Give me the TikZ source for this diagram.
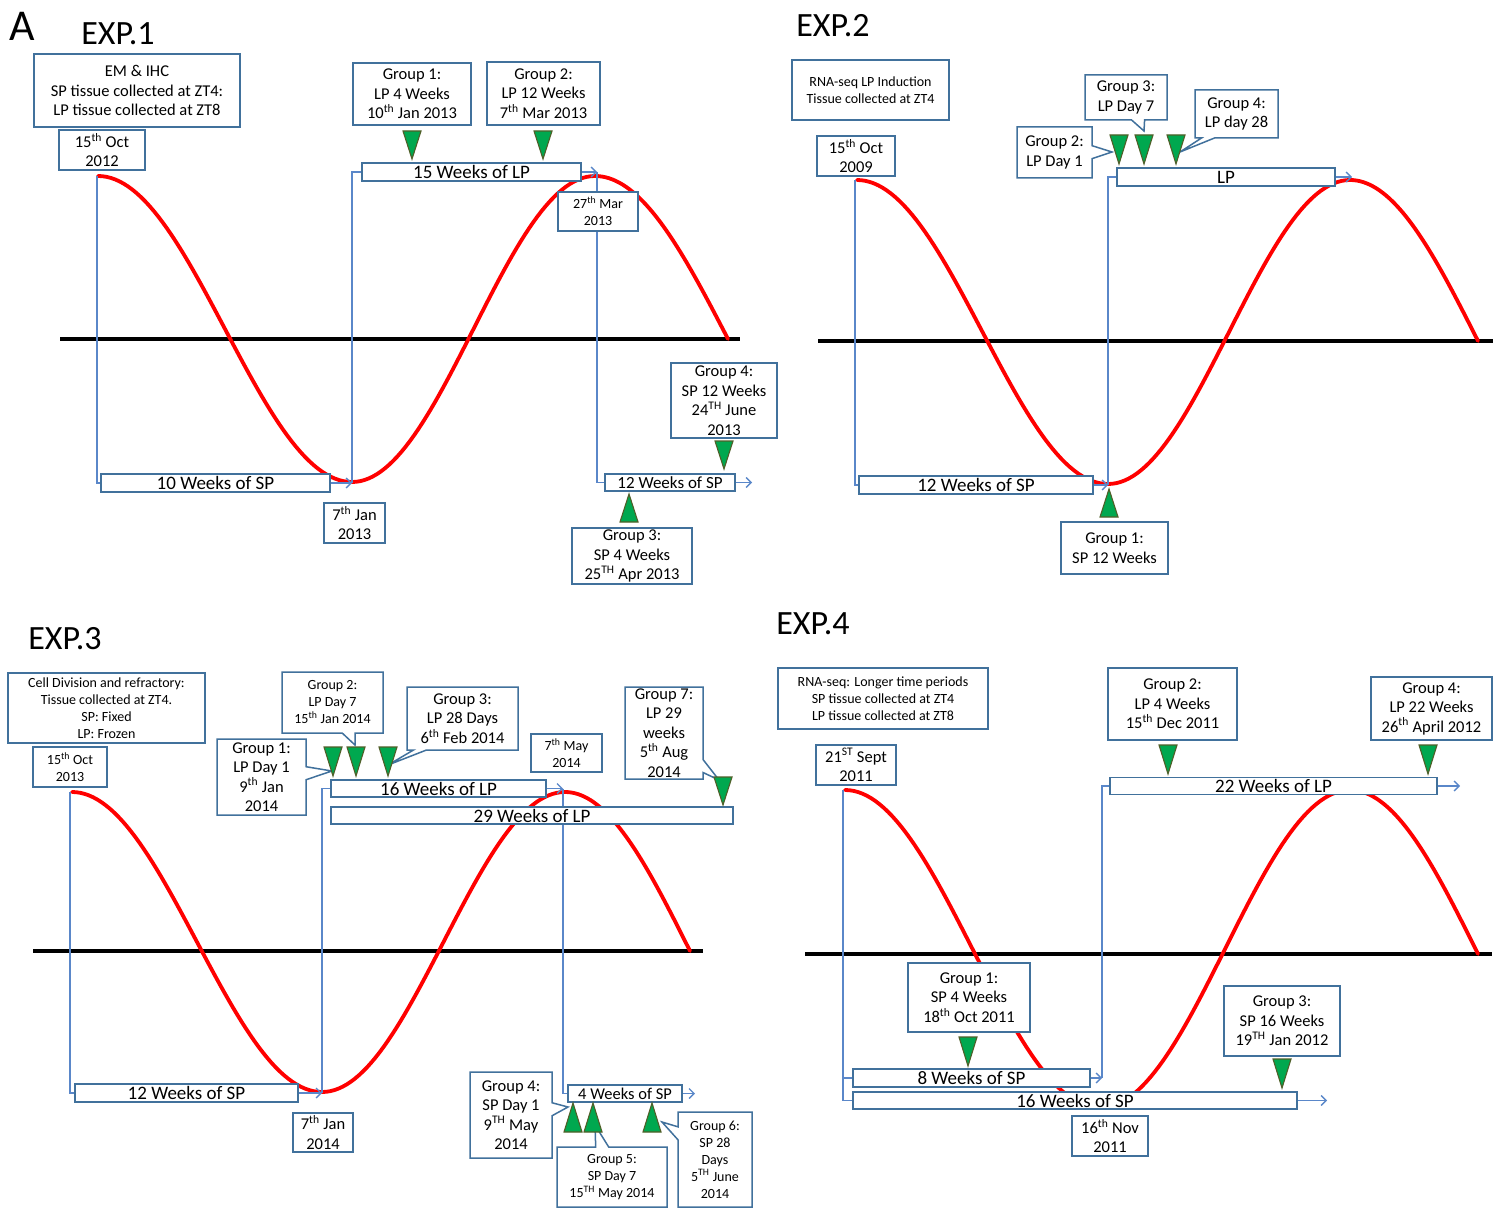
\documentclass[tikz,border=0pt]{standalone}
\usepackage{fontspec}
\setmainfont{Carlito}
\usetikzlibrary{arrows.meta,shapes.callouts,backgrounds}
\definecolor{boxc}{HTML}{41719C}
\definecolor{linec}{HTML}{5A87C9}
\definecolor{redc}{HTML}{FF0000}
\definecolor{trig}{HTML}{00A84F}
\definecolor{trib}{HTML}{4F5F28}
\newcommand\fnN{\fontsize{16.5}{19.5}\selectfont}
\newcommand\fnS{\fontsize{14}{17}\selectfont}
\newcommand\fnB{\fontsize{19}{20}\selectfont}
\newcommand\fnM{\fontsize{17}{20}\selectfont}
\newcommand\fnT{\fontsize{34}{36}\selectfont}
\newcommand\fnA{\fontsize{44}{48}\selectfont}
\newcommand\sps[1]{\textsuperscript{#1}}
\newcommand\mytri[3]{\draw[tri] (#1-9,#2) -- (#1+9,#2) -- (#1,#3) -- cycle;}
\newcommand\mywave[7]{\draw[redw] plot[domain=#1:#3,samples=60] (\x,{#2+(#4-#2)*(1-cos(180*((\x-#1)/(#3-#1))))/2}) -- plot[domain=#3:#5,samples=60] (\x,{#4+(#2-#4)*(1-cos(180*((\x-#3)/(#5-#3))))/2}) -- plot[domain=#5:#6,samples=40] (\x,{#2+(#7-#2)*(1-cos(90*((\x-#5)/(#6-#5))))});}
\tikzset{
  sz/.style 2 args={minimum width=#1pt, minimum height=#2pt},
  bx/.style={draw=boxc, line width=1.5pt, fill=white, align=center, inner sep=0pt, font=\fnN},
  sbx/.style={bx, font=\fnS},
  bar/.style={bx, font=\fnB},
  co/.style={bx, rectangle callout, callout pointer width=13pt},
  sco/.style={co, font=\fnS},
  conn/.style={draw=linec, line width=1.3pt},
  arr/.style={conn, -{Straight Barb[length=5pt,width=10pt,line width=1.3pt]}},
  tri/.style={fill=trig, draw=trib, line width=1.1pt, line join=miter},
  redw/.style={draw=redc, line width=3.8pt, line cap=round, line join=round},
  ax/.style={draw=black, line width=3.5pt},
  ttl/.style={inner sep=0pt, font=\fnT},
}
\begin{document}
\begin{tikzpicture}[x=1pt,y=-1pt]
\useasboundingbox (0,0) rectangle (1504,1209);
% ---------------- EXP.1
\node[inner sep=0pt, font=\fnA] (lblA) at (22,26) {A};
\node[ttl] (t1) at (118,34) {EXP.1};
\node[bx, sz={206}{73}] (e1info) at (137,90.5) {EM \& IHC\\SP tissue collected at ZT4:\\LP tissue collected at ZT8};
\node[bx, sz={86}{40}] (e1d1) at (102,150) {15\sps{th} Oct\\2012};
\node[bx, sz={118}{62}] (e1g1) at (412,94) {Group 1:\\LP 4 Weeks\\10\sps{th} Jan 2013};
\node[bx, sz={113}{63}] (e1g2) at (543.5,93.5) {Group 2:\\LP 12 Weeks\\7\sps{th} Mar 2013};
\node[bar, sz={219}{18}] (e1lp) at (471.5,172) {15 Weeks of LP};
\node[sbx, sz={80}{39}] (e1d2) at (598,211.5) {27\sps{th} Mar\\2013};
\node[bar, sz={229}{18}] (e1sp) at (215.5,483) {10 Weeks of SP};
\node[bx, sz={61}{40}] (e1d3) at (354.5,523) {7\sps{th} Jan\\2013};
\node[bar, sz={130}{17}, font=\fnM] (e1sp2) at (670,482.5) {12 Weeks of SP};
\node[bx, sz={106}{75}] (e1g4) at (724,400.5) {Group 4:\\SP 12 Weeks\\24\sps{TH} June\\2013};
\node[bx, sz={120}{56}] (e1g3) at (632,556) {Group 3:\\SP 4 Weeks\\25\sps{TH} Apr 2013};
\mytri{412}{131}{159}
\mytri{543}{131}{159}
\mytri{724}{441}{469}
\mytri{629}{522}{494}
\coordinate (e1s) at (97,176);
\coordinate (e1tr) at (352,483);
\coordinate (e1pk) at (597,172);
\coordinate (e1end) at (752,482.5);
% ---------------- EXP.2
\node[ttl] (t2) at (833,26) {EXP.2};
\node[sbx, sz={157}{60}] (e2info) at (870.5,90) {RNA-seq LP Induction\\Tissue collected at ZT4};
\node[bx, sz={78}{40}] (e2d1) at (856,156) {15\sps{th} Oct\\2009};
\node[bar, sz={234}{18}] (e2sp) at (976,485) {12 Weeks of SP};
\node[bar, sz={218}{18}] (e2lp) at (1226,177) {LP};
\node[bx, sz={107}{52}] (e2g1) at (1114.5,548) {Group 1:\\SP 12 Weeks};
\node[co, sz={75}{51}, callout absolute pointer={(1112,152)}] (e2g2) at (1054.5,152.5) {Group 2:\\LP Day 1};
\node[co, sz={82}{45}, callout absolute pointer={(1144,131)}] (e2g3) at (1126,97.5) {Group 3:\\LP Day 7};
\node[co, sz={83}{48}, callout absolute pointer={(1180,152)}] (e2g4) at (1236.5,114) {Group 4:\\LP day 28};
\mytri{1119}{135}{164}
\mytri{1144}{135}{164}
\mytri{1176}{135}{164}
\mytri{1109}{517}{489}
\coordinate (e2s) at (855,180);
\coordinate (e2tr) at (1108,485);
\coordinate (e2pk) at (1352,177);
% ---------------- EXP.3
\node[ttl] (t3) at (65,639) {EXP.3};
\node[sbx, sz={197}{70}] (e3info) at (106.5,708) {Cell Division and refractory:\\Tissue collected at ZT4.\\SP: Fixed\\LP: Frozen};
\node[sbx, sz={74}{40}] (e3d1) at (70,767) {15\sps{th} Oct\\2013};
\node[bar, sz={223}{18}] (e3sp) at (186.5,1093) {12 Weeks of SP};
\node[bx, sz={60}{39}] (e3d2) at (323,1132.5) {7\sps{th} Jan\\2014};
\node[bar, sz={215}{17}] (e3lp16) at (438.5,788.5) {16 Weeks of LP};
\node[bar, sz={402}{17}] (e3lp29) at (532,815.5) {29 Weeks of LP};
\node[sbx, sz={71}{38}] (e3d3) at (566.5,753) {7\sps{th} May\\2014};
\node[bar, sz={114}{17}, font=\fnN] (e3sp4) at (625,1093.5) {4 Weeks of SP};
\node[co, sz={89}{76}, callout absolute pointer={(332,771)}] (e3g1) at (261.5,777) {Group 1:\\LP Day 1\\9\sps{th} Jan\\2014};
\node[sco, sz={101}{61}, callout absolute pointer={(355,745)}] (e3g2) at (332.5,702.5) {Group 2:\\LP Day 7\\15\sps{th} Jan 2014};
\node[co, sz={111}{63}, callout absolute pointer={(388,765)}] (e3g3) at (462.5,718.5) {Group 3:\\LP 28 Days\\6\sps{th} Feb 2014};
\node[co, sz={78}{92}, callout absolute pointer={(719,780)}] (e3g7) at (664,733) {Group 7:\\LP 29\\weeks\\5\sps{th} Aug\\2014};
\node[co, sz={82}{86}, callout absolute pointer={(568,1107)}] (e3g4) at (511,1115) {Group 4:\\SP Day 1\\9\sps{TH} May\\2014};
\node[sco, sz={110}{60}, callout absolute pointer={(595,1125)}] (e3g5) at (612,1177) {Group 5:\\SP Day 7\\15\sps{TH} May 2014};
\node[sco, sz={74}{95}, callout absolute pointer={(662,1122)}] (e3g6) at (715,1159.5) {Group 6:\\SP 28\\Days\\5\sps{TH} June\\2014};
\mytri{333}{747}{776}
\mytri{356}{747}{776}
\mytri{388}{747}{776}
\mytri{723}{777}{805}
\mytri{573}{1132}{1103}
\mytri{593}{1132}{1103}
\mytri{652}{1132}{1103}
\coordinate (e3s) at (70,792);
\coordinate (e3tr) at (322,1093);
\coordinate (e3pk) at (563,788.5);
\coordinate (e3end) at (695,1093.5);
% ---------------- EXP.4
\node[ttl] (t4) at (813,624) {EXP.4};
\node[sbx, sz={210}{61}] (e4info) at (883,698.5) {RNA-seq: Longer time periods\\SP tissue collected at ZT4\\LP tissue collected at ZT8};
\node[bx, sz={80}{40}] (e4d1) at (856,765) {21\sps{ST} Sept\\2011};
\node[bar, sz={237}{18}] (e4sp8) at (971.5,1078) {8 Weeks of SP};
\node[bar, sz={444}{17}] (e4sp16) at (1075,1100.5) {16 Weeks of SP};
\node[bar, sz={327}{17}] (e4lp) at (1273.5,786) {22 Weeks of LP};
\node[bx, sz={122}{69}] (e4g1) at (969,997.5) {Group 1:\\SP 4 Weeks\\18\sps{th} Oct 2011};
\node[bx, sz={129}{72}] (e4g2) at (1172.5,704) {Group 2:\\LP 4 Weeks\\15\sps{th} Dec 2011};
\node[bx, sz={121}{63}] (e4g4) at (1431.5,708.5) {Group 4:\\LP 22 Weeks\\26\sps{th} April 2012};
\node[bx, sz={116}{70}] (e4g3) at (1282,1021) {Group 3:\\SP 16 Weeks\\19\sps{TH} Jan 2012};
\node[bx, sz={76}{40}] (e4d2) at (1110,1136) {16\sps{th} Nov\\2011};
\mytri{968}{1037}{1066}
\mytri{1168}{745}{774}
\mytri{1428}{745}{774}
\mytri{1282}{1059}{1088}
\coordinate (e4s) at (843,790);
\coordinate (e4j) at (1102,1078);
\coordinate (e4e1) at (1460,786);
\coordinate (e4e2) at (1327,1100.5);
% ---------------- background: axes, waves, connectors
\begin{pgfonlayer}{background}
\fill[white] (0,0) rectangle (1504,1209);
\draw[ax] (60,339) -- (740,339);
\draw[ax] (818,341) -- (1493,341);
\draw[ax] (33,951) -- (703,951);
\draw[ax] (805,954) -- (1492,954);
\mywave{98}{176}{352}{482}{595}{728}{339}
\mywave{857}{180}{1108}{484}{1350}{1478}{341}
\mywave{72}{792}{322}{1092}{565}{690}{951}
\mywave{845}{790}{1100}{1108}{1350}{1478}{954}
% EXP.1
\draw[conn] (e1s) |- (e1sp.west);
\draw[arr] (e1sp.east) -- (e1tr);
\draw[conn] (e1tr) |- (e1lp.west);
\draw[arr] (e1lp.east) -- (e1pk);
\draw[conn] (e1pk) |- (e1sp2.west);
\draw[arr] (e1sp2.east) -- (e1end);
% EXP.2
\draw[conn] (e2s) |- (e2sp.west);
\draw[arr] (e2sp.east) -- (e2tr);
\draw[conn] (e2tr) |- (e2lp.west);
\draw[arr] (e2lp.east) -- (e2pk);
% EXP.3
\draw[conn] (e3s) |- (e3sp.west);
\draw[arr] (e3sp.east) -- (e3tr);
\draw[conn] (e3tr) |- (e3lp16.west);
\draw[arr] (e3lp16.east) -- (e3pk);
\draw[conn] (e3pk) |- (e3sp4.west);
\draw[arr] (e3sp4.east) -- (e3end);
% EXP.4
\draw[conn] (e4s) |- (e4sp8.west);
\draw[conn] (e4s) |- (e4sp16.west);
\draw[arr] (e4sp8.east) -- (e4j);
\draw[conn] (e4j) |- (e4lp.west);
\draw[arr] (e4lp.east) -- (e4e1);
\draw[arr] (e4sp16.east) -- (e4e2);
\end{pgfonlayer}
\end{tikzpicture}
\end{document}
